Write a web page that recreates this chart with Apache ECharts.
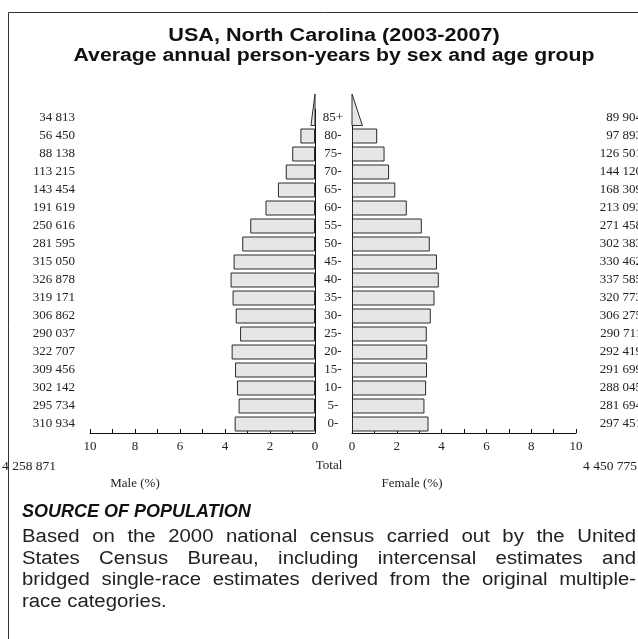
<!DOCTYPE html>
<html><head><meta charset="utf-8">
<script src="https://cdn.jsdelivr.net/npm/echarts@6/dist/echarts.min.js"></script>
<style>html,body{margin:0;padding:0;background:#fff}#c{width:638px;height:639px}</style>
</head><body><div id="c"></div>
<script>
// ---------- data ----------
const ageGroups = ['85+','80-','75-','70-','65-','60-','55-','50-','45-','40-','35-','30-','25-','20-','15-','10-','5-','0-'];
const maleCounts = [34813,56450,88138,113215,143454,191619,250616,281595,315050,326878,319171,306862,290037,322707,309456,302142,295734,310934];
const femaleCounts = [89904,97893,126501,144120,168309,213093,271458,302383,330462,337585,320773,306275,290711,292419,291699,288045,281694,297451];
const xTicks = [0,2,4,6,8,10];
const titleLines = ['USA, North Carolina (2003-2007)','Average annual person-years by sex and age group'];
const maleLabel = 'Male (%)';
const femaleLabel = 'Female (%)';
const totalLabel = 'Total';
const sourceHeading = 'SOURCE OF POPULATION';
const sourceLines = [
  'Based on the 2000 national census carried out by the United',
  'States Census Bureau, including intercensal estimates and',
  'bridged single-race estimates derived from the original multiple-',
  'race categories.'
];

// ---------- derived ----------
const sum = a => a.reduce((s,v)=>s+v,0);
const totalMale = sum(maleCounts), totalFemale = sum(femaleCounts);
const grand = totalMale + totalFemale;
const malePct = maleCounts.map(v => v/grand*100);
const femalePct = femaleCounts.map(v => v/grand*100);
const fmt = n => String(n).replace(/\B(?=(\d{3})+(?!\d))/g,' ');

const SERIF = '"Liberation Serif","Times New Roman",serif';
const SANS = '"Liberation Sans",Arial,Helvetica,sans-serif';
const FILL = '#e6e6e6', EDGE = '#2a2a2a';

const L = {x0:90, x1:315}, R = {x0:352, x1:576}, TOP = 109, BOT = 433;

function xAx(grid, inverse){
  return {type:'value', gridIndex:grid, min:0, max:10, interval:2, inverse:inverse,
    axisLine:{show:true, lineStyle:{color:'#111', width:1}},
    axisTick:{show:true, inside:true, length:4, lineStyle:{color:'#111'}},
    minorTick:{show:true, splitNumber:2, length:4, lineStyle:{color:'#111'}},
    splitLine:{show:false},
    axisLabel:{fontFamily:SERIF, fontSize:13, color:'#222', margin:7,
      formatter: v => xTicks.indexOf(v) >= 0 ? String(v) : ''}};
}
function yAx(grid, pos, labels, opts){
  return Object.assign({type:'category', gridIndex:grid, inverse:true, position:pos, data:labels,
    axisTick:{show:false}, splitLine:{show:false},
    axisLine:{show:false}}, opts);
}

function triangle(params, api){
  const idx = api.value(1), v = api.value(0);
  const band = api.size([0,1])[1];
  const base = api.coord([0, idx]);
  const tip = api.coord([v*0.45, idx]);
  const yb = base[1] + band*0.42;
  const yt = yb - band*1.75;
  return {type:'polygon', shape:{points:[[base[0],yt],[base[0],yb],[tip[0],yb]]},
    style:{fill:FILL, stroke:EDGE, lineWidth:1}};
}

const barData = pct => pct.map((v,i)=> i===0 ? '-' : v);

// justified text helper (text horizontally stretched by sx)
const cv = document.createElement('canvas').getContext('2d');
function justifyLine(text, x, y, width, font, sx, justify){
  cv.font = font;
  const words = text.split(' ');
  const out = [];
  if(!justify){
    out.push({type:'text', x:x, y:y, scaleX:sx, style:{text:text, font:font, fill:'#222', textVerticalAlign:'middle'}});
    return out;
  }
  const ws = words.map(w=>cv.measureText(w).width*sx);
  const gap = (width - sum(ws)) / (words.length-1);
  let cx = x;
  words.forEach((w,i)=>{
    out.push({type:'text', x:cx, y:y, scaleX:sx, style:{text:w, font:font, fill:'#222', textVerticalAlign:'middle'}});
    cx += ws[i] + gap;
  });
  return out;
}

const paraFont = '18px ' + SANS;
const titleFont = 'bold 18px ' + SANS;
let graphics = [
  {type:'rect', shape:{x:8.5, y:12.5, width:700, height:700}, style:{fill:'none', stroke:'#333', lineWidth:1}, silent:true},
  {type:'text', x:334, y:36, scaleX:1.2, style:{text:titleLines[0], font:titleFont, fill:'#111', textAlign:'center', textVerticalAlign:'middle'}},
  {type:'text', x:334, y:56, scaleX:1.18, style:{text:titleLines[1], font:titleFont, fill:'#111', textAlign:'center', textVerticalAlign:'middle'}},
  {type:'text', x:2, y:466, style:{text:fmt(totalMale), font:'13.5px '+SERIF, fill:'#222', textVerticalAlign:'middle'}},
  {type:'text', x:637, y:466, style:{text:fmt(totalFemale), font:'13.5px '+SERIF, fill:'#222', textAlign:'right', textVerticalAlign:'middle'}},
  {type:'text', x:329, y:466, style:{text:totalLabel, font:'13px '+SERIF, fill:'#222', textAlign:'center', textVerticalAlign:'middle'}},
  {type:'text', x:135, y:484, style:{text:maleLabel, font:'13px '+SERIF, fill:'#222', textAlign:'center', textVerticalAlign:'middle'}},
  {type:'text', x:412, y:484, style:{text:femaleLabel, font:'13px '+SERIF, fill:'#222', textAlign:'center', textVerticalAlign:'middle'}},
  {type:'text', x:22, y:512, style:{text:sourceHeading, font:'italic bold 18px '+SANS, fill:'#111', textVerticalAlign:'middle'}}
];
const lineYs = [537, 559, 580, 602];
sourceLines.forEach((t,i)=>{
  graphics = graphics.concat(justifyLine(t, 22, lineYs[i], 614, paraFont, 1.13, i < sourceLines.length-1));
});

const option = {
  animation:false,
  backgroundColor:'#fff',
  grid:[
    {left:L.x0, width:L.x1-L.x0, top:TOP, height:BOT-TOP, outerBoundsMode:'none', containLabel:false},
    {left:R.x0, width:R.x1-R.x0, top:TOP, height:BOT-TOP, outerBoundsMode:'none', containLabel:false}
  ],
  xAxis:[xAx(0,true), xAx(1,false)],
  yAxis:[
    yAx(0,'right',ageGroups,{axisLine:{show:true,lineStyle:{color:'#111'}},
      axisLabel:{fontFamily:SERIF,fontSize:13,color:'#222',align:'center',margin:18}}),
    yAx(0,'left',maleCounts.map(fmt),{axisLabel:{fontFamily:SERIF,fontSize:13,color:'#222',margin:15}}),
    yAx(1,'left',ageGroups,{axisLine:{show:true,lineStyle:{color:'#111'}},axisLabel:{show:false}}),
    yAx(1,'right',femaleCounts.map(fmt),{axisLabel:{fontFamily:SERIF,fontSize:13,color:'#222',align:'right',margin:66}})
  ],
  series:[
    {type:'bar', xAxisIndex:0, yAxisIndex:0, data:barData(malePct), barWidth:15,
      itemStyle:{color:FILL, borderColor:EDGE, borderWidth:1}},
    {type:'bar', xAxisIndex:1, yAxisIndex:2, data:barData(femalePct), barWidth:15,
      itemStyle:{color:FILL, borderColor:EDGE, borderWidth:1}},
    {type:'custom', xAxisIndex:0, yAxisIndex:0, data:[[malePct[0],0]], encode:{x:0,y:1}, renderItem:triangle, clip:false},
    {type:'custom', xAxisIndex:1, yAxisIndex:2, data:[[femalePct[0],0]], encode:{x:0,y:1}, renderItem:triangle, clip:false}
  ],
  graphic:graphics
};
const chart = echarts.init(document.getElementById('c'), null, {renderer:'canvas'});
chart.setOption(option);
</script></body></html>
